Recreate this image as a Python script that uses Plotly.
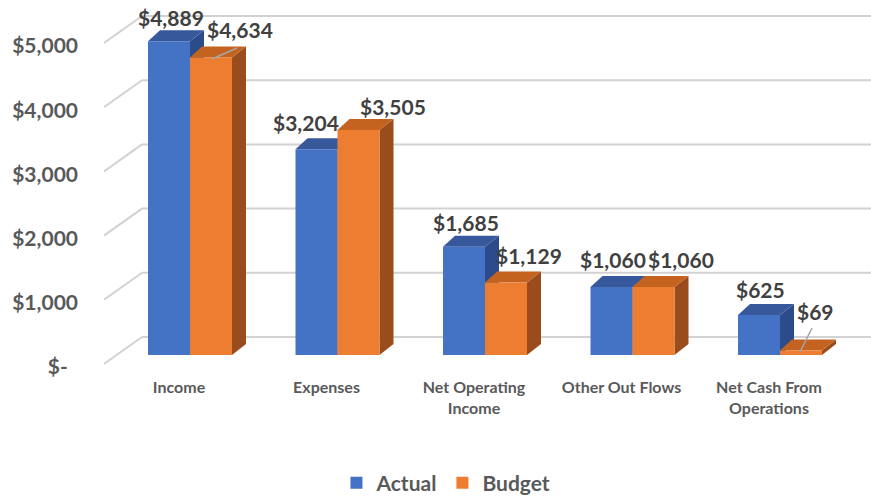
import plotly.graph_objects as go

# ---- data ----
categories = ["Income", "Expenses", "Net Operating<br>Income", "Other Out Flows", "Net Cash From<br>Operations"]
actual = [4889, 3204, 1685, 1060, 625]
budget = [4634, 3505, 1129, 1060, 69]
y_ticks = [0, 1000, 2000, 3000, 4000, 5000]
y_tick_text = ["$-\u00a0\u00a0", "$1,000", "$2,000", "$3,000", "$4,000", "$5,000"]

# ---- geometry (pixel scale of the plot area) ----
W, H = 871, 497
L, T = 104, 5                  # plot area left / top in px
PW = W - L                     # plot width
PH = 365                       # plot height
XPX = 147.5                    # px per category step
YPX = 0.0642                   # px per dollar
ZERO_PX = 350                  # distance from plot top to the $0 baseline

xmin = -(190 - L) / XPX
xmax = xmin + PW / XPX
ymax = ZERO_PX / YPX
ymin = -(PH - ZERO_PX) / YPX

BW = 42 / XPX                  # bar width (data units)
DXR = 14 / XPX                 # depth offset on the right edge
DXL = 12 / XPX                 # depth offset on the left edge
DY = 11 / YPX                  # depth rise

BLUE, BLUE_TOP, BLUE_SIDE = "#4472C4", "#37599C", "#2C4B8A"
ORANGE, ORANGE_TOP, ORANGE_SIDE = "#ED7D31", "#C4621F", "#9B4C1D"
GRID = "#D2D2D2"

xs = list(range(len(categories)))

fig = go.Figure()
fig.add_trace(go.Bar(name="Actual", x=xs, y=actual, width=BW, offset=-BW,
                     marker=dict(color=BLUE, line=dict(width=0))))
fig.add_trace(go.Bar(name="Budget", x=xs, y=budget, width=BW, offset=0,
                     marker=dict(color=ORANGE, line=dict(width=0))))

shapes = []

# back wall gridlines and the receding floor/side lines
for v in y_ticks:
    xb = xmin + 38 / XPX
    shapes.append(dict(type="line", xref="x", yref="y", layer="below",
                       x0=xmin, y0=v - 9 / YPX, x1=xb, y1=v + 18 / YPX,
                       line=dict(color=GRID, width=2)))
    shapes.append(dict(type="line", xref="x", yref="y", layer="below",
                       x0=xb, y0=v + 18 / YPX, x1=xmax, y1=v + 18 / YPX,
                       line=dict(color=GRID, width=2)))


def poly(pts):
    return "M " + " L ".join(f"{x},{y}" for x, y in pts) + " Z"


def box_faces(left, right, v, top_col, side_col):
    side = poly([(right, 0), (right + DXR, DY), (right + DXR, v + DY), (right, v)])
    top = poly([(left, v), (right, v), (right + DXR, v + DY), (left + DXL, v + DY)])
    return [
        dict(type="path", xref="x", yref="y", layer="below", path=side,
             fillcolor=side_col, line=dict(width=0)),
        dict(type="path", xref="x", yref="y", layer="below", path=top,
             fillcolor=top_col, line=dict(width=0)),
    ]


for i, (a, b) in enumerate(zip(actual, budget)):
    shapes += box_faces(i - BW, i, a, BLUE_TOP, BLUE_SIDE)
    shapes += box_faces(i, i + BW, b, ORANGE_TOP, ORANGE_SIDE)

# value labels: pixel offsets from the front top centre of each bar
actual_shift = [(2, 24), (-11, 27), (2, 24), (1, 27), (1, 25)]
budget_shift = [(29, 28), (34, 23), (23, 27), (27, 27), (14, 39)]

annotations = []
for i, (a, b) in enumerate(zip(actual, budget)):
    for val, cx, (sx, sy) in ((a, i - BW / 2, actual_shift[i]), (b, i + BW / 2, budget_shift[i])):
        annotations.append(dict(x=cx, y=val, xref="x", yref="y",
                                text=f"${val:,}", showarrow=False,
                                xshift=sx, yshift=sy, xanchor="center", yanchor="middle",
                                font=dict(family="Lato", size=21, color="#404040", weight="bold")))

# leader lines for labels pulled away from their bars
leaders = [(0, budget[0], (1, -1.5), (26, 9.5)), (4, budget[4], (-1, -1.4), (11, 22.6))]
for i, v, (x0, y0), (x1, y1) in leaders:
    shapes.append(dict(type="line", xref="x", yref="y", layer="above",
                       xsizemode="pixel", ysizemode="pixel",
                       xanchor=i + BW / 2, yanchor=v,
                       x0=x0, y0=y0, x1=x1, y1=y1,
                       line=dict(color="#A6A6A6", width=1.5)))

fig.update_layout(
    width=W, height=H,
    margin=dict(l=L, r=0, t=T, b=H - T - PH, pad=0),
    paper_bgcolor="white", plot_bgcolor="white",
    barmode="overlay",
    shapes=shapes,
    annotations=annotations,
    showlegend=True,
    legend=dict(orientation="h", xref="container", yref="container",
                x=0.512, xanchor="center", y=(H - 483) / H, yanchor="middle",
                font=dict(family="Lato", size=21, color="#595959", weight="bold"),
                itemclick=False, itemdoubleclick=False),
    xaxis=dict(range=[xmin, xmax], showgrid=False, zeroline=False, showline=False,
               tickvals=xs, ticktext=categories, ticks="",
               ticklabelshift=-11, ticklabelstandoff=6,
               tickfont=dict(family="Lato", size=16, color="#595959", weight="bold")),
    yaxis=dict(range=[ymin, ymax], showgrid=False, zeroline=False, showline=False,
               tickvals=y_ticks, ticktext=y_tick_text, ticks="",
               ticklabelshift=12, ticklabelstandoff=25,
               tickfont=dict(family="Lato", size=21, color="#595959", weight="bold")),
)

fig.write_html("out.html")
